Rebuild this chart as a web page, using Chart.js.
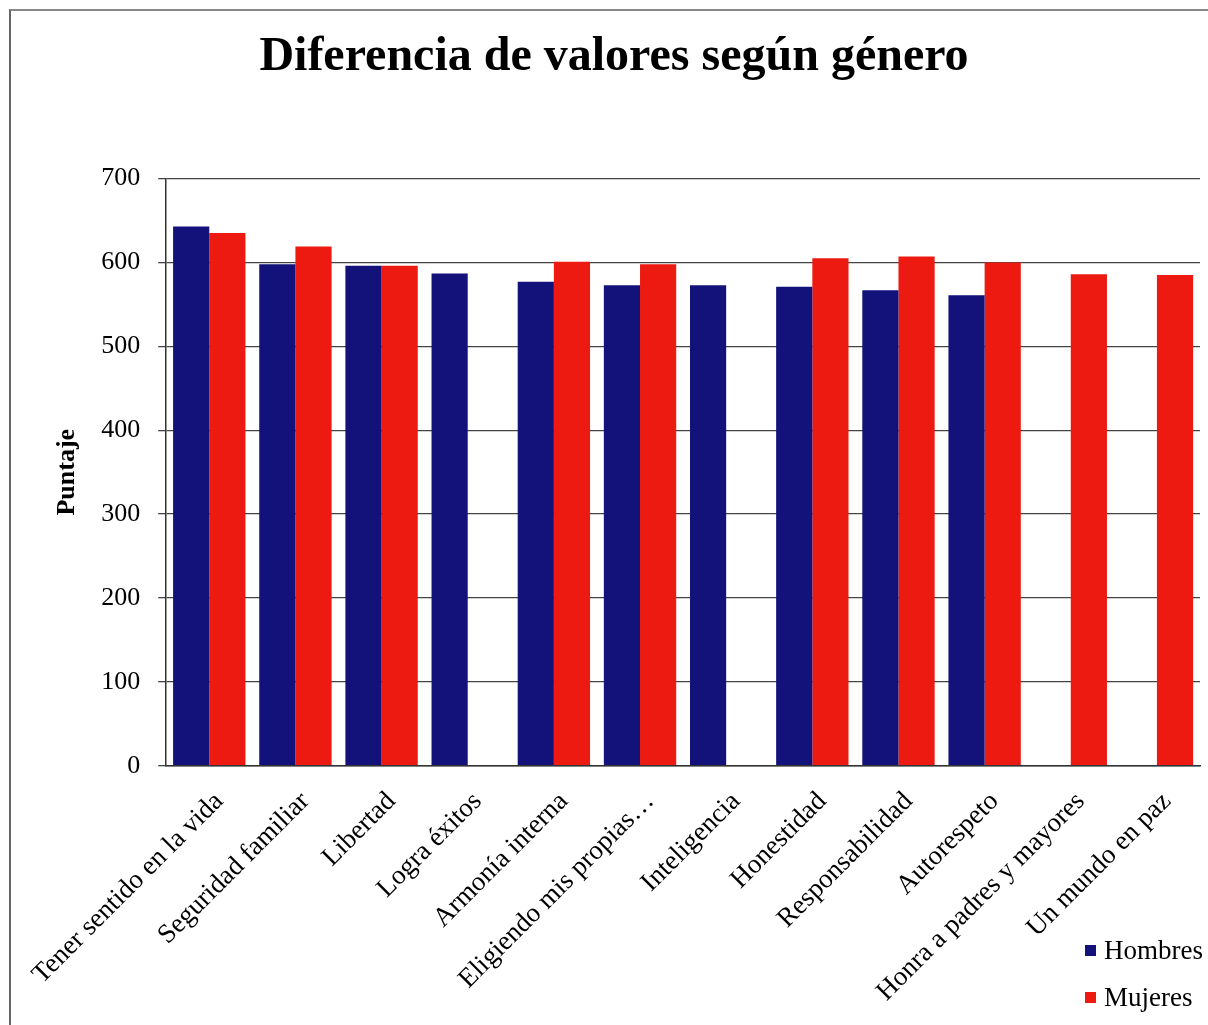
<!DOCTYPE html>
<html>
<head>
<meta charset="utf-8">
<script src="https://cdn.jsdelivr.net/npm/chart.js@4/dist/chart.umd.min.js"></script>
<style>
  html, body { margin: 0; padding: 0; background: #fff; }
  #wrap { position: absolute; left: 0; top: 0; width: 1208px; height: 1025px; }
  #frame { position: absolute; left: 9px; top: 9px; width: 1210px; height: 1030px;
           border-left: 2px solid #666; border-top: 2px solid #888; }
  #legend { position: absolute; left: 1085px; top: 927px; font: 27px "Liberation Serif", serif; color: #000; }
  #legend div { height: 47px; display: flex; align-items: center; }
  #legend span.box { display: inline-block; width: 11px; height: 11px; margin-right: 8px; }
</style>
</head>
<body>
<div id="wrap">
  <div id="frame"></div>
  <canvas id="chart" width="1208" height="1025"></canvas>
  <div id="legend"></div>
</div>
<script>
// categories and scores
const categories = [
  "Tener sentido en la vida", "Seguridad familiar", "Libertad", "Logra éxitos",
  "Armonía interna", "Eligiendo mis propias…", "Inteligencia", "Honestidad",
  "Responsabilidad", "Autorespeto", "Honra a padres y mayores", "Un mundo en paz"
];
const hombres = [643, 598, 596, 587, 577, 573, 573, 571, 567, 561, null, null];
const mujeres = [635, 619, 596, null, 601, 598, null, 605, 607, 600, 586, 585];
const yTicks = [0, 100, 200, 300, 400, 500, 600, 700];

const serif = "'Liberation Serif', 'Times New Roman', serif";

const ctx = document.getElementById("chart").getContext("2d");
const chart = new Chart(ctx, {
  type: "bar",
  data: {
    labels: categories,
    datasets: [
      { label: "Hombres", data: hombres, backgroundColor: "#12127a" },
      { label: "Mujeres", data: mujeres, backgroundColor: "#ec1a10" },
    ],
  },
  options: {
    responsive: false,
    animation: false,
    layout: { padding: { left: 28, right: 8, top: 0, bottom: 5 } },
    datasets: { bar: { categoryPercentage: 0.84, barPercentage: 1.0 } },
    plugins: {
      legend: { display: false },
      tooltip: { enabled: false },
      title: {
        display: true,
        text: "Diferencia de valores según género",
        color: "#000",
        font: { family: serif, size: 48, weight: "bold" },
        padding: { top: 29, bottom: 92 },
      },
    },
    scales: {
      x: {
        grid: { display: false },
        border: { display: true, color: "#333", width: 1.5 },
        ticks: {
          color: "#000",
          font: { family: serif, size: 27 },
          maxRotation: 45,
          minRotation: 45,
          autoSkip: false,
          padding: 12,
          labelOffset: 10,
        },
      },
      y: {
        min: 0,
        max: 700,
        afterBuildTicks: (axis) => { axis.ticks = yTicks.map((v) => ({ value: v })); },
        grid: { color: "#444", lineWidth: 1.3, tickLength: 8 },
        border: { display: true, color: "#333", width: 1.5 },
        ticks: { color: "#000", font: { family: serif, size: 26 }, padding: 18 },
        title: {
          display: true,
          text: "Puntaje",
          color: "#000",
          font: { family: serif, size: 26, weight: "bold" },
          padding: { top: 24, bottom: 0 },
        },
      },
    },
  },
});

// legend drawn as html, stacked at the bottom right
const legendEl = document.getElementById("legend");
chart.data.datasets.forEach((ds) => {
  const row = document.createElement("div");
  const box = document.createElement("span");
  box.className = "box";
  box.style.background = ds.backgroundColor;
  row.appendChild(box);
  row.appendChild(document.createTextNode(ds.label));
  legendEl.appendChild(row);
});
</script>
</body>
</html>
